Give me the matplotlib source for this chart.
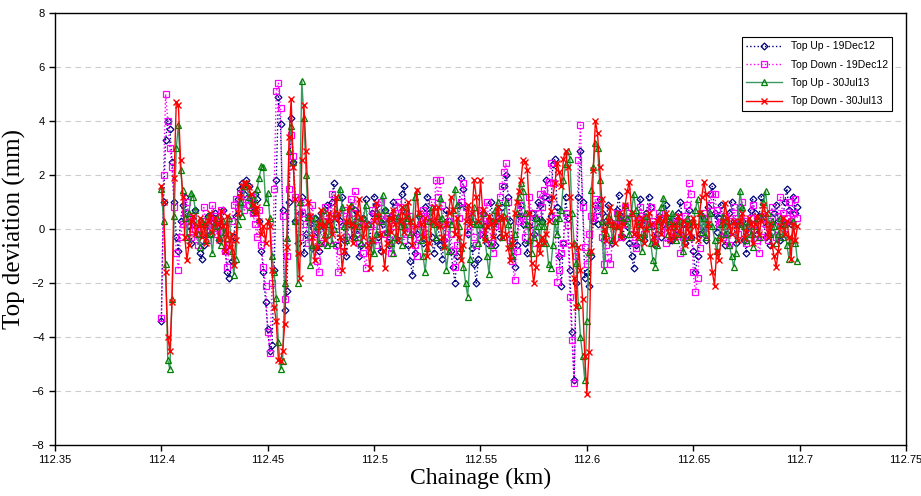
import numpy as np
import matplotlib
matplotlib.use("Agg")
import matplotlib.pyplot as plt

plt.rcParams['font.family'] = ['Liberation Sans', 'DejaVu Sans']

# chainage (km), one reading every metre
chainage = np.round(112.400 + 0.001 * np.arange(300), 3)

# Top Up - 19Dec12
top_up_dec = np.array([
    -3.4, 1.0, 3.3, 4.0, 3.7, 2.5, 1.0, -0.3, -0.8, 0.3,
    0.9, 1.2, 0.6, 0.1, -0.5, 0.2, 0.7, -0.2, -0.9, -1.1,
    -0.6, 0.1, 0.5, -0.2, 0.3, 0.6, 0.1, -0.4, 0.2, 0.7,
    -0.8, -1.6, -1.8, -1.2, -0.3, 0.5, 1.1, 1.5, 1.7, 1.3,
    1.8, 1.6, 1.0, 0.6, 1.3, 1.1, 0.3, -0.8, -1.6, -2.7,
    -3.7, -4.5, -4.3, -1.5, 1.8, 4.9, 3.9, 0.7, -3.0, -2.3,
    1.0, 4.1, 2.5, 0.3, -0.5, 0.6, 1.2, -0.9, -0.2, 0.5,
    0.2, -0.7, 0.4, -0.1, -0.8, 0.6, 0.1, -0.5, 0.9, 0.3,
    1.0, 1.7, 0.5, -0.6, 0.3, 1.2, -0.4, -1.0, 0.2, 0.8,
    -0.3, 0.7, -0.2, -1.0, -0.6, 0.4, 1.1, 0.2, -0.5, 0.6,
    1.2, 0.9, -0.3, -0.8, 0.2, 0.7, -0.1, -0.6, 0.5, 1.0,
    0.4, -0.4, 0.3, 1.3, 1.6, 0.6, -0.6, -1.2, -1.7, -0.9,
    -0.2, 0.5, 0.3, -0.5, 0.8, 1.2, 0.6, -0.3, -0.9, -0.4,
    0.2, -0.6, -1.1, -0.4, 0.7, 0.3, -0.8, -1.4, -2.0, -1.0,
    0.9, 1.9, 1.5, 0.8, -0.2, 0.4, -0.7, -1.3, -2.0, -1.1,
    -0.2, 0.6, 0.1, -0.5, 0.3, 1.0, 0.2, -0.6, 0.4, -0.3,
    0.8, 1.6, 2.0, 1.2, 0.3, -0.4, -1.4, -0.6, 0.5, 0.9,
    0.2, -0.5, -0.9, 0.1, 0.6, -0.2, 0.4, 1.0, 0.9, 0.3,
    1.2, 1.8, 1.1, 0.5, 2.4, 2.6, 0.8, -1.0, -2.1, -0.5,
    1.2, 0.4, -1.5, -3.8, -5.6, -2.0, 1.2, 2.9, 1.0, -1.8,
    -1.6, -2.1, -1.0, 0.3, 0.9, 0.2, 1.1, 0.6, -0.4, 0.3,
    0.9, 0.3, -0.5, 0.1, 0.7, 1.25, 0.5, -0.3, 0.4, 0.1,
    -0.5, -1.0, -1.45, -0.6, 0.4, 1.1, 0.2, -0.4, 0.6, 1.2,
    0.8, 0.1, -0.6, -0.2, 0.5, -0.3, 0.2, 0.9, 0.4, -0.4,
    -0.4, 0.3, -0.2, 0.6, 1.0, 0.2, -0.5, 0.1, 0.7, -0.3,
    -0.8, -1.6, -1.0, -0.2, 0.5, 0.1, -0.4, 0.8, 1.3, 1.6,
    0.6, -0.1, 0.4, 0.9, 0.2, -0.6, -0.2, 0.6, 1.0, 0.3,
    -0.5, 0.2, 0.8, 0.3, -0.4, -0.9, 0.1, 0.7, 1.1, 0.6,
    -0.2, 0.5, 1.2, 0.4, -0.3, 0.2, -0.6, -0.1, 0.6, 0.9,
    0.3, -0.4, 0.2, 1.0, 1.5, 0.7, 0.2, 1.2, 0.6, 0.8,
])

# Top Down - 19Dec12
top_down_dec = np.array([
    -3.3, 2.0, 5.0, 4.0, 3.0, 2.3, 0.8, -0.9, -1.5, -0.3,
    0.2, 0.6, 1.0, 0.4, -0.3, 0.5, 0.0, -0.6, -0.2, 0.3,
    0.8, 0.1, -0.4, 0.2, 0.9, 0.5, -0.2, 0.3, 0.7, -0.1,
    -0.8, -1.4, -0.6, 0.3, 0.9, 1.1, 0.8, 1.3, 1.0, 0.7,
    1.1, 0.9, 1.2, 0.6, 0.2, -0.3, 0.7, -0.6, -1.4, -2.1,
    -3.8, -4.6, -2.0, 1.5, 5.1, 5.4, 4.5, 0.5, -2.6, -1.0,
    1.5, 3.5, 2.7, 1.2, 0.5, -0.3, 0.6, 1.0, 0.2, -0.5,
    0.4, 0.9, -0.2, -1.2, -1.6, -0.5, 0.3, 0.8, 0.1, -0.4,
    1.3, 0.5, -0.6, -1.6, -0.8, 0.2, 0.7, -0.3, 0.4, 1.1,
    0.6, 1.4, 0.3, -0.5, 0.2, -0.9, -1.45, -0.6, 0.1, 0.7,
    0.2, -0.6, 0.4, 1.0, 0.3, -0.2, 0.5, -0.4, -0.9, 0.1,
    0.6, 1.0, 0.8, 0.1, -0.4, 0.3, -0.1, 0.5, 0.0, -0.6,
    -1.0, -0.3, 0.2, 0.7, 0.4, -0.2, 0.5, 1.0, 0.3, 1.8,
    1.2, 1.8, 0.9, 0.2, -0.5, 0.3, -0.2, -0.8, -1.4, -0.6,
    0.4, 1.0, 1.7, 0.8, -0.1, 0.5, 0.2, -0.3, -0.6, 0.2,
    0.7, -0.2, 0.4, 1.0, 0.3, -0.5, -0.9, 0.1, 0.6, 1.2,
    1.6, 2.1, 2.45, 1.0, -0.4, -1.2, -1.9, -0.8, 0.3, 0.9,
    0.4, -0.3, 0.5, 1.2, 0.6, -0.5, -0.1, 0.6, 1.3, 0.8,
    1.45, 1.2, 1.75, 2.45, 1.7, 0.4, -1.95, -1.5, -0.9, -0.5,
    0.6, 0.15, -2.5, -4.1, -5.7, -1.0, 2.55, 3.85, 0.8, -0.65,
    -1.3, -0.2, 0.5, 0.4, 1.1, 0.7, 0.9, -0.3, -1.3, -0.6,
    -1.05, -1.3, -0.4, 0.2, 0.6, 0.1, -0.3, 0.4, 0.8, 0.2,
    0.6, -0.2, -0.5, -0.7, 0.3, 0.8, 0.5, -0.2, 0.4, 0.1,
    0.8, 0.3, -0.4, 0.2, 0.6, -0.1, 0.4, -0.5, 0.1, 0.3,
    -0.3, 0.2, 0.45, -0.2, -0.9, -0.3, 0.5, 0.9, 1.7, 1.3,
    -1.6, -2.35, -1.8, -0.7, 0.2, 0.6, -0.2, 0.4, 0.9, 1.3,
    1.3, 0.7, 0.2, 0.25, -0.3, 0.5, 0.1, -0.6, 0.3, 0.8,
    0.4, -0.2, 0.6, 1.0, 0.3, -0.5, -0.2, 0.4, 0.9, 0.2,
    -0.4, -0.9, -0.3, 0.5, 0.2, -0.4, 0.3, 0.8, 0.1, -0.3,
    0.5, 1.2, 0.6, -0.2, 0.4, 1.0, 0.3, 0.6, 1.1, 0.4,
])

# Top Up - 30Jul13
top_up_jul = np.array([
    1.5, 0.3, -1.3, -4.85, -5.2, -2.6, 0.5, 3.0, 3.85, 2.2,
    1.45, 0.4, -0.3, 0.6, 1.35, 1.2, 0.7, -0.2, -0.65, 0.3,
    0.2, -0.4, 0.5, -0.2, -0.9, 0.1, 0.4, -0.3, -0.6, 0.3,
    -0.1, -0.35, 0.4, -0.8, -1.7, -1.1, 0.2, 1.0, 0.5, 1.6,
    1.7, 1.2, 0.8, 1.1, 0.7, 1.5, 1.9, 2.35, 2.3, 1.0,
    1.35, 0.4, -1.0, -1.6, -2.55, -4.2, -5.2, -4.9, -2.0, -0.35,
    2.9, 3.8, 2.5, 0.3, -2.0, 1.0, 5.5, 4.1, 2.0, 0.45,
    -1.35, -0.6, 0.4, 0.1, -0.5, 0.3, 0.7, -0.2, -0.6, 0.2,
    -0.5, 0.0, 0.6, 1.2, 1.5, 0.8, 0.1, -0.4, 0.3, 0.9,
    0.2, -0.3, 0.5, 0.1, -0.5, 0.4, 0.9, 0.2, -0.8, -0.4,
    -0.9, -0.2, 0.6, 0.3, 1.25, 0.7, -0.1, 0.4, -0.5, -0.9,
    -0.3, 0.5, 0.1, -0.6, 0.2, 0.8, 0.4, -0.2, 0.3, 1.2,
    1.4, 0.6, -0.4, -1.0, -1.6, -0.7, 0.3, 0.8, 0.2, -0.3,
    0.5, 1.15, 0.4, -0.6, -1.5, -0.8, 0.2, 0.7, 1.5, 0.9,
    0.1, -0.7, -1.4, -2.0, -2.5, -1.1, 0.3, 0.8, 0.2, -0.5,
    0.2, 0.6, -0.3, -1.0, -1.65, -0.6, 0.3, 0.7, 1.0, 0.4,
    -0.3, 0.5, 1.0, 0.2, -0.6, -1.0, -0.2, 0.6, 1.2, 1.7,
    1.4, 0.6, 0.2, -0.4, -0.9, -0.3, 0.4, 0.1, -0.5, 0.3,
    0.1, -0.5, -1.3, -1.45, -0.6, 0.3, -0.2, 0.4, 0.7, 1.8,
    2.4, 2.9, 2.6, 0.6, -0.5, -1.25, -2.8, -4.0, -4.7, -5.6,
    -3.4, -0.85, 1.45, 2.3, 3.2, 3.0, 1.8, 0.3, -1.5, -0.15,
    0.5, 0.2, -0.4, 0.1, 0.6, 0.45, -0.2, 0.3, 0.9, 0.4,
    -0.2, 0.6, 1.3, 0.7, 0.2, -0.3, -0.8, -0.2, 0.5, 0.1,
    -0.5, -1.15, -1.4, -0.6, 0.3, 0.8, 1.15, 0.5, -0.2, 0.3,
    0.6, 0.1, -0.4, -0.2, 0.3, -0.8, -0.3, 0.4, 0.2, -0.3,
    0.3, 0.7, 1.1, 0.6, -0.1, 0.4, -0.3, 0.2, 0.6, 0.1,
    -0.4, -0.8, -0.3, 0.2, 0.5, -0.2, 0.3, -0.6, -1.0, -1.4,
    -0.9, 0.2, 1.4, 0.8, 0.1, -0.4, 0.3, -0.2, -0.65, 0.1,
    0.4, -0.3, 0.5, 1.0, 1.4, 0.6, -0.2, 0.3, 0.1, -0.5,
    -0.2, 0.4, -0.3, 0.2, -0.6, -1.1, -0.4, 0.3, -0.5, -1.2,
])

# Top Down - 30Jul13
top_down_jul = np.array([
    1.6, 1.0, -1.6, -4.0, -4.5, -2.7, 1.9, 4.7, 4.6, 2.55,
    1.2, -0.3, -1.15, -0.6, 0.3, 0.5, -0.2, 0.1, 0.4, -0.3,
    0.2, -0.5, 0.3, 0.6, -0.1, 0.4, 0.2, -0.4, 0.65, 0.1,
    -0.8, 0.5, -0.65, -0.2, -1.35, -0.4, 0.6, 1.2, 1.6, 1.7,
    1.7, 1.55, 1.3, 0.9, 0.6, 0.8, 0.3, -0.2, 0.1, -0.5,
    0.3, 0.1, -1.5, -2.9, -3.4, -4.85, -4.9, -4.5, -3.5, -0.65,
    3.4, 4.8, 2.3, 1.1, -0.9, -1.8, 2.55, 4.6, 2.9, 1.0,
    0.5, -0.3, -1.15, -0.65, 0.2, 0.7, 0.1, -0.4, 0.3, 0.6,
    -0.2, 0.4, 1.2, 0.6, -0.3, -1.5, -0.8, 0.3, 0.8, 0.2,
    -0.5, 0.1, 0.6, 1.1, 0.4, -0.3, 0.2, -0.6, -1.45, -0.4,
    0.3, 0.95, 0.5, -0.2, -0.8, -1.45, -0.5, 0.4, -0.1, 0.7,
    0.2, -0.4, 0.3, 0.8, -0.1, 0.5, 1.0, 0.3, -0.6, 0.1,
    1.45, 0.6, 0.2, -0.3, 0.4, -1.0, -0.5, 0.3, 0.8, 0.2,
    0.8, 0.1, -0.3, -0.65, 0.2, 0.6, 1.2, 0.7, -0.2, 0.4,
    -0.3, -1.15, -0.6, 0.3, 0.9, 0.2, 0.6, 1.8, 1.2, 0.3,
    1.8, 0.7, -0.4, 0.1, 0.5, 0.2, -0.3, 0.3, 0.8, 0.5,
    -0.3, 0.4, -0.2, -0.7, -1.15, -0.5, 0.6, 1.0, 1.4, 1.8,
    2.55, 2.5, 2.2, 0.6, -1.25, -2.0, -1.4, -0.5, -0.9, -0.3,
    -0.5, -0.2, 0.3, 0.65, 1.2, 1.7, 2.45, 2.1, 1.6, 2.6,
    2.9, 2.3, 1.2, -0.6, -1.8, -2.9, -0.65, -1.5, -2.6, -4.7,
    -6.1, -4.55, -0.8, 2.2, 4.0, 3.55, 2.3, 1.1, 0.0, -0.4,
    0.3, 0.8, 0.2, -0.5, 0.1, 0.6, -0.3, 0.2, 0.9, 1.4,
    1.75, 0.6, -0.2, 0.4, -0.3, 0.1, 0.4, -0.5, 0.0, 0.6,
    0.2, -0.3, -0.5, 0.3, 0.45, -0.2, 0.3, 0.6, 0.05, -0.4,
    0.2, -0.3, 0.05, 0.5, -0.2, 0.3, -0.6, 0.2, -0.1, -0.3,
    0.4, 0.1, -0.4, 0.6, 1.2, 1.75, 1.3, 0.2, -1.0, -1.6,
    -2.1, -0.8, -1.15, -0.4, 0.3, 0.95, 0.4, 0.1, -0.2, 0.3,
    0.1, -0.4, 0.3, 0.6, -0.35, -0.1, 0.4, 0.2, -0.5, 0.2,
    0.5, -0.2, 0.3, 0.9, 0.6, -0.3, 0.2, -0.6, -1.0, -1.4,
    -0.8, 0.1, 0.4, -0.2, 0.3, -0.3, -1.1, 0.2, -0.4, 0.1,
])

series_labels = ['Top Up - 19Dec12', 'Top Down - 19Dec12',
                 'Top Up - 30Jul13', 'Top Down - 30Jul13']

fig = plt.figure(figsize=(9.21, 4.96), dpi=100)
# plot area: x 55..906 px, y 13..445 px
ax = fig.add_axes([55 / 921, 51 / 496, 851 / 921, 432 / 496])

# 19Dec12 surveys: dotted lines, open markers
ax.plot(chainage, top_up_dec, linestyle=':', color='#000080', linewidth=1,
        marker='D', markersize=3.5, markerfacecolor='none', markeredgewidth=0.9,
        label=series_labels[0])
ax.plot(chainage, top_down_dec, linestyle=':', color='#ff00ff', linewidth=1,
        marker='s', markersize=4, markerfacecolor='none', markeredgewidth=0.9,
        label=series_labels[1])
# 30Jul13 surveys: solid lines
ax.plot(chainage, top_up_jul, linestyle='-', color='#3a9a62', linewidth=1,
        marker='^', markersize=5, markerfacecolor='none', markeredgecolor='#008000',
        markeredgewidth=0.9, label=series_labels[2])
ax.plot(chainage, top_down_jul, linestyle='-', color='#ff0000', linewidth=1,
        marker='x', markersize=5, markeredgewidth=1.0, label=series_labels[3])

ax.set_xlim(112.35, 112.75)
ax.set_ylim(-8, 8)
ax.set_xticks(np.arange(112.35, 112.751, 0.05))
ax.set_xticklabels(['112.35', '112.4', '112.45', '112.5', '112.55',
                    '112.6', '112.65', '112.7', '112.75'])
ax.set_yticks(np.arange(-8, 9, 2))
ax.tick_params(axis='both', direction='out', length=4, width=1, labelsize=8)
ax.yaxis.grid(True, linestyle=(0, (5, 4)), color='#cccccc', linewidth=0.8)
ax.set_axisbelow(True)
for sp in ax.spines.values():
    sp.set_linewidth(1)
    sp.set_color('black')

ax.set_xlabel('Chainage (km)', family='Liberation Serif', fontsize=17, labelpad=2)
ax.set_ylabel('Top deviation (mm)', family='Liberation Serif', fontsize=18, labelpad=4)

leg = ax.legend(loc='upper right', bbox_to_anchor=(0.9835, 0.944), fontsize=7.5,
                fancybox=False, edgecolor='black', framealpha=1, borderaxespad=0,
                handlelength=3.5, labelspacing=0.8)
leg.get_frame().set_linewidth(0.8)

fig.savefig('out.png', dpi=100)
